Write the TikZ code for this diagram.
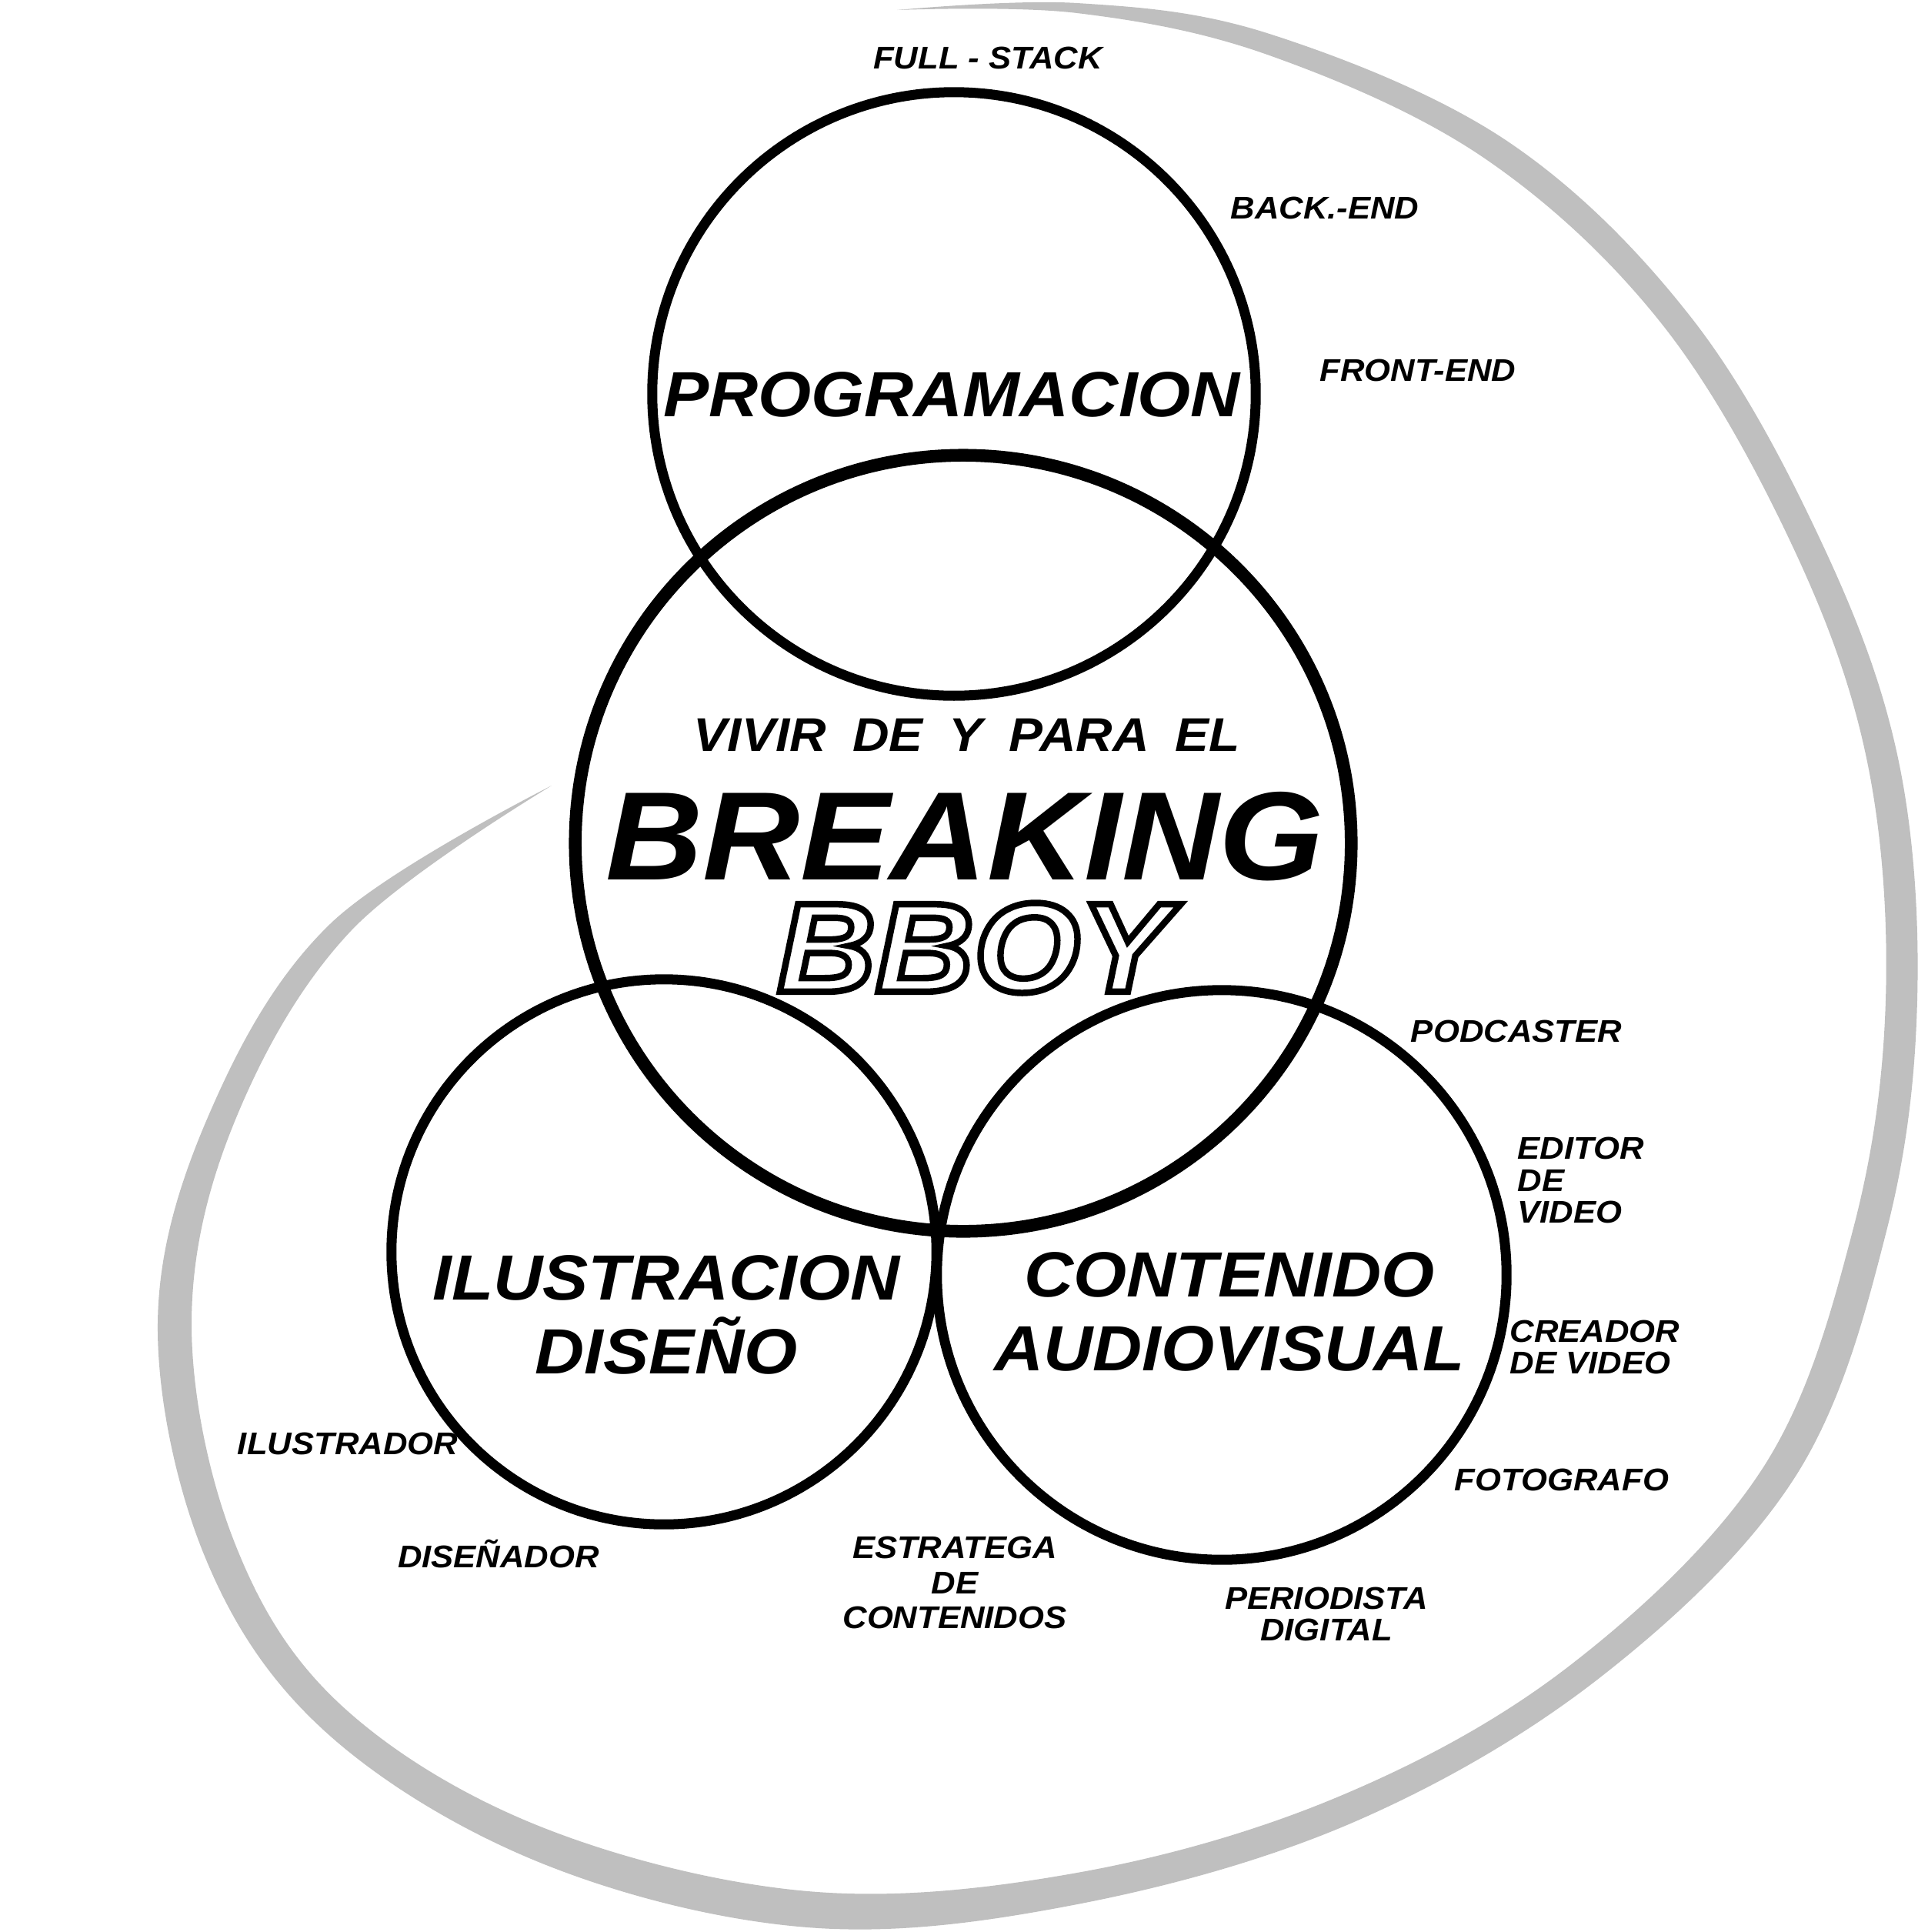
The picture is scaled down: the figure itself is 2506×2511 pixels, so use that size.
\documentclass[tikz,border=0pt]{standalone}
\usepackage{fontspec}
\setmainfont{Liberation Sans}[FakeStretch=1.07]
\usepackage{tikz}

\definecolor{swirlgray}{RGB}{191,191,191}
\newcommand{\wordgap}{\hspace{0.556em}}
% stroke-only glyphs for the outlined word
\newcommand{\outlined}[1]{\special{pdf:literal direct 1 Tr 2.4 w}#1%
  \special{pdf:literal direct 0 Tr}}

\begin{document}
\begin{tikzpicture}[
  x=0.01cm,y=-0.01cm,
  ring/.style={circle,draw=black,line width=3.7pt,inner sep=0pt},
  corering/.style={ring,line width=4.7pt},
  title/.style={font=\fontsize{23.6pt}{27.3pt}\selectfont\bfseries\itshape,
    align=center,inner sep=0pt},
  role/.style={font=\fontsize{11.6pt}{11.7pt}\selectfont\bfseries\itshape,
    align=center,inner sep=0pt},
  lead/.style={font=\fontsize{17.5pt}{18pt}\selectfont\bfseries\itshape,
    inner sep=0pt},
  bigword/.style={font=\fontsize{46.5pt}{47pt}\selectfont\bfseries\itshape,
    inner sep=0pt},
  bboy/.style={font=\fontsize{47pt}{48pt}\selectfont\bfseries\itshape,
    inner sep=0pt}
]
  \useasboundingbox (0,0) rectangle (2506,2511);

  % Gray swirl behind everything: outer edge, then inner edge back.
  \fill[swirlgray] plot[smooth, tension=0.6] coordinates {
      (717,1021) (430,1200) (271,1450) (205,1720) (265,2020) (420,2248)
      (700,2420) (1050,2505) (1400,2475) (1760,2368) (2080,2180)
      (2333,1920) (2452,1600) (2492,1300) (2468,990) (2370,710)
      (2200,415) (1960,184) (1650,44) (1400,4) (1166,13)}
    -- plot[smooth, tension=0.6] coordinates {
      (1166,13) (1400,17) (1650,72) (1930,206) (2160,421) (2330,710)
      (2427,990) (2451,1300) (2408,1600) (2290,1910) (2040,2165)
      (1740,2335) (1400,2434) (1050,2458) (700,2373) (440,2213)
      (303,2000) (249,1720) (304,1460) (456,1210) (717,1021)}
    -- cycle;

  % The four circles.
  \node[ring, minimum size=7.84cm] (prog) at (1240,512) {};
  \node[corering, minimum size=10.08cm] (core) at (1252,1096) {};
  \node[ring, minimum size=7.08cm] (illus) at (863,1627) {};
  \node[ring, minimum size=7.40cm] (media) at (1588,1657) {};

  % Circle titles.
  \node[title] (progtitle) at (1237,513) {PROGRAMACION};
  \node[title] (illustitle) at (866,1709) {ILUSTRACION\\DISEÑO};
  \node[title] (mediatitle) at (1598,1705) {CONTENIDO\\AUDIOVISUAL};

  % Centre text, BBOY drawn as an outline.
  \node[lead] (lead) at (1257,955)
    {VIVIR\wordgap DE\wordgap Y\wordgap PARA\wordgap EL};
  \node[bigword] (breaking) at (1254,1087) {BREAKING};
  \node[bboy] (bboy) at (1266,1232) {\outlined{BBOY}};

  % Roles around the circles.
  \node[role] (fullstack) at (1284,75) {FULL - STACK};
  \node[role] (backend) at (1722,270) {BACK.-END};
  \node[role] (frontend) at (1843,481) {FRONT-END};
  \node[role] (podcaster) at (1971,1340) {PODCASTER};
  \node[role, anchor=west, align=left] (editor) at (1972,1534)
    {EDITOR\\DE\\VIDEO};
  \node[role, anchor=west, align=left] (creador) at (1962,1751)
    {CREADOR\\DE VIDEO};
  \node[role] (foto) at (2030,1923) {FOTOGRAFO};
  \node[role] (periodista) at (1724,2098) {PERIODISTA\\DIGITAL};
  \node[role] (estratega) at (1241,2057)
    {ESTRATEGA\\[1.2pt]DE\\[1.2pt]CONTENIDOS};
  \node[role] (ilustrador) at (452,1876) {ILUSTRADOR};
  \node[role] (disenador) at (648,2020) {DISEÑADOR};
\end{tikzpicture}
\end{document}
